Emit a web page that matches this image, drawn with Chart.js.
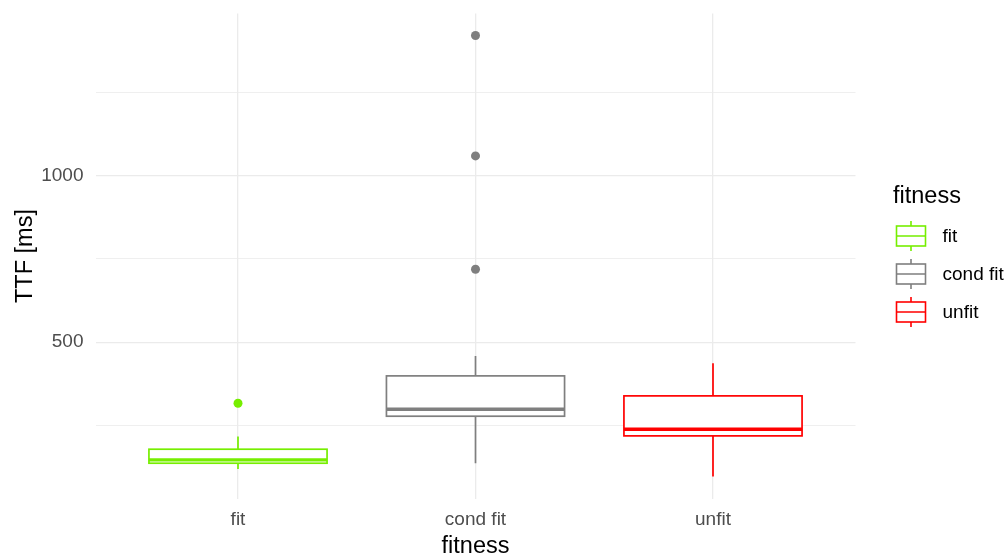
<!DOCTYPE html>
<html>
<head>
<meta charset="utf-8">
<script src="https://cdn.jsdelivr.net/npm/chart.js@4/dist/chart.umd.min.js"></script>
<style>
  html, body { margin: 0; padding: 0; background: #ffffff; }
  canvas { display: block; }
</style>
</head>
<body>
<canvas id="chart" width="1007" height="555"></canvas>
<script>
// Time-to-fixation per fitness group: five-number summaries plus outliers
const categories = ['fit', 'cond fit', 'unfit'];
const whiskerLow = [120, 137, 97];
const lowerQuartile = [137, 278, 219];
const medians = [147, 299, 239];
const upperQuartile = [179, 399, 339];
const whiskerHigh = [217, 459, 437];
const outliers = [[317], [719, 1059, 1420], []];
const groupColors = ['#76EE00', '#7F7F7F', '#FF0000'];
const yGridValues = [250, 500, 750, 1000, 1250];
const yLabelledValues = [500, 1000];

const FONT = "'Liberation Sans', Arial, sans-serif";
const BOX_HALF = 0.375;      // half of box width, in category units
const X_EXPAND = 0.6;        // discrete axis expansion on each side

// continuous axis range: data range expanded by 5% on each side
const allValues = [].concat(whiskerLow, whiskerHigh, ...outliers);
const dataMin = Math.min(...allValues);
const dataMax = Math.max(...allValues);
const span = dataMax - dataMin;
const yMin = dataMin - span * 0.05;
const yMax = dataMax + span * 0.05;

// outlier points, one per value, placed at their group's position
const outlierPoints = [];
const outlierColors = [];
outliers.forEach((vals, i) => vals.forEach(v => {
  outlierPoints.push({ x: i, y: v });
  outlierColors.push(groupColors[i]);
}));

// boxes, whiskers and medians drawn through the chart's scales
const boxPlotPlugin = {
  id: 'boxPlot',
  beforeDatasetsDraw(chart) {
    const { ctx, scales: { x, y } } = chart;
    categories.forEach((cat, i) => {
      const xl = x.getPixelForValue(i - BOX_HALF);
      const xr = x.getPixelForValue(i + BOX_HALF);
      const xc = x.getPixelForValue(i);
      const yTop = y.getPixelForValue(upperQuartile[i]);
      const yBot = y.getPixelForValue(lowerQuartile[i]);
      const yMed = y.getPixelForValue(medians[i]);
      ctx.save();
      ctx.strokeStyle = groupColors[i];
      ctx.lineWidth = 1.7;
      ctx.beginPath();
      ctx.moveTo(xc, y.getPixelForValue(whiskerHigh[i]));
      ctx.lineTo(xc, yTop);
      ctx.moveTo(xc, yBot);
      ctx.lineTo(xc, y.getPixelForValue(whiskerLow[i]));
      ctx.stroke();
      ctx.fillStyle = '#ffffff';
      ctx.fillRect(xl, yTop, xr - xl, yBot - yTop);
      ctx.strokeRect(xl, yTop, xr - xl, yBot - yTop);
      ctx.lineWidth = 3.4;
      ctx.beginPath();
      ctx.moveTo(xl, yMed);
      ctx.lineTo(xr, yMed);
      ctx.stroke();
      ctx.restore();
    });
  }
};

// legend with small box-and-whisker keys to the right of the panel
const boxLegendPlugin = {
  id: 'boxLegend',
  afterDraw(chart) {
    const { ctx } = chart;
    const left = 893;
    const titleY = 196.5;
    const firstKeyY = 236;
    const keyStep = 38;
    ctx.save();
    ctx.fillStyle = '#000000';
    ctx.font = `23.5px ${FONT}`;
    ctx.textBaseline = 'middle';
    ctx.textAlign = 'left';
    ctx.fillText('fitness', left, titleY);
    categories.forEach((cat, i) => {
      const cy = firstKeyY + i * keyStep;
      const kl = left + 3.5, kr = left + 32.5, kc = (kl + kr) / 2;
      ctx.strokeStyle = groupColors[i];
      ctx.lineWidth = 1.6;
      ctx.beginPath();
      ctx.moveTo(kc, cy - 15); ctx.lineTo(kc, cy - 10);
      ctx.moveTo(kc, cy + 10); ctx.lineTo(kc, cy + 15);
      ctx.moveTo(kl, cy); ctx.lineTo(kr, cy);
      ctx.stroke();
      ctx.strokeRect(kl, cy - 10, kr - kl, 20);
      ctx.fillStyle = '#000000';
      ctx.font = `19px ${FONT}`;
      ctx.fillText(cat, left + 49.5, cy + 1);
    });
    ctx.restore();
  }
};

// keep the panel edges where the layout padding puts them
const noLabelPadding = s => {
  s.paddingTop = 0; s.paddingBottom = 0; s.paddingLeft = 0; s.paddingRight = 0;
};

new Chart(document.getElementById('chart'), {
  type: 'scatter',
  data: {
    datasets: [{
      label: 'outliers',
      data: outlierPoints,
      pointBackgroundColor: outlierColors,
      pointBorderWidth: 0,
      pointRadius: 4.5,
      pointHoverRadius: 4.5
    }]
  },
  plugins: [boxPlotPlugin, boxLegendPlugin],
  options: {
    responsive: false,
    animation: false,
    devicePixelRatio: 1,
    layout: { padding: { top: 13.5, right: 151.5, bottom: 0, left: 0 } },
    plugins: { legend: { display: false }, tooltip: { enabled: false } },
    scales: {
      x: {
        type: 'linear',
        min: -X_EXPAND,
        max: categories.length - 1 + X_EXPAND,
        afterBuildTicks: s => { s.ticks = categories.map((_, i) => ({ value: i })); },
        afterFit: s => { s.height = 56.4; noLabelPadding(s); },
        border: { display: false },
        grid: { color: '#EBEBEB', lineWidth: 1.3, drawTicks: false },
        ticks: {
          padding: 9.5,
          color: '#4D4D4D',
          font: { family: FONT, size: 19 },
          maxRotation: 0,
          autoSkip: false,
          callback: v => categories[v] !== undefined ? categories[v] : ''
        },
        title: {
          display: true,
          text: 'fitness',
          color: '#000000',
          font: { family: FONT, size: 23.5, lineHeight: 0.75 },
          padding: 0
        }
      },
      y: {
        type: 'linear',
        min: yMin,
        max: yMax,
        afterBuildTicks: s => { s.ticks = yGridValues.map(v => ({ value: v })); },
        afterFit: s => { s.width = 95.5; noLabelPadding(s); },
        border: { display: false },
        grid: {
          color: '#EBEBEB',
          drawTicks: false,
          lineWidth: c => (c.tick && yLabelledValues.includes(c.tick.value)) ? 1.3 : 0.8
        },
        ticks: {
          padding: 12,
          color: '#4D4D4D',
          font: { family: FONT, size: 19 },
          autoSkip: false,
          callback: v => yLabelledValues.includes(v) ? String(v) : ''
        },
        title: {
          display: true,
          text: 'TTF [ms]',
          color: '#000000',
          font: { family: FONT, size: 23.5 },
          padding: { top: 11, bottom: 0 }
        }
      }
    }
  }
});
</script>
</body>
</html>
